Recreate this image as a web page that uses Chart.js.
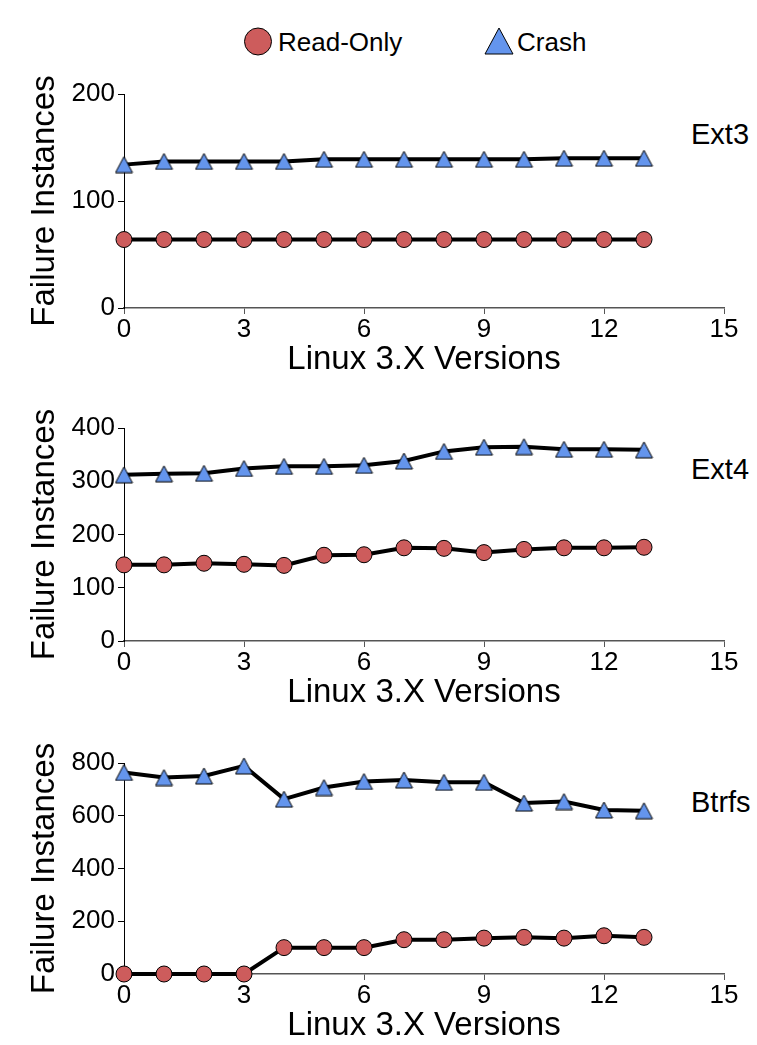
<!DOCTYPE html>
<html><head><meta charset="utf-8">
<script src="https://cdn.jsdelivr.net/npm/chart.js@4"></script>
<style>
html,body{margin:0;padding:0;background:#fff;width:757px;height:1045px;overflow:hidden;position:relative;font-family:"Liberation Sans",Arial,Helvetica,sans-serif;}
canvas{position:absolute;left:0;}
.lbl{position:absolute;left:691px;font-size:29px;line-height:29px;color:#000;white-space:nowrap;}
.lg{position:absolute;font-size:26px;line-height:26px;color:#000;white-space:nowrap;}
</style></head>
<body>
<svg style="position:absolute;left:0;top:0" width="757" height="70">
  <circle cx="258" cy="41.5" r="13.5" fill="#cd5c5c" stroke="#000" stroke-width="1"/>
  <polygon points="499,28 513,54 485,54" fill="#6495ed" stroke="#000" stroke-width="1"/>
</svg>
<div class="lg" id="lg0" style="left:278px;top:28.7px"></div>
<div class="lg" id="lg1" style="left:517px;top:28.7px"></div>
<div class="lbl" id="t0" style="top:120px"></div>
<div class="lbl" id="t1" style="top:455px"></div>
<div class="lbl" id="t2" style="top:788px"></div>
<canvas id="c0" width="757" height="308" style="top:70px"></canvas>
<canvas id="c1" width="757" height="307" style="top:404px"></canvas>
<canvas id="c2" width="757" height="305" style="top:739px"></canvas>
<script>
// ---- data ----
const versions = [0,1,2,3,4,5,6,7,8,9,10,11,12,13];
const seriesNames = ['Read-Only', 'Crash'];
const fsNames = ['Ext3', 'Ext4', 'Btrfs'];
const xTitle = 'Linux 3.X Versions';
const yTitle = 'Failure Instances';
const xTicks = [0,3,6,9,12,15];

const ext3ReadOnly = [64,64,64,64,64,64,64,64,64,64,64,64,64,64];
const ext3Crash    = [134,137,137,137,137,139,139,139,139,139,139,140,140,140];
const ext4ReadOnly = [143,143,146,144,142,161,162,175,174,166,172,175,175,176];
const ext4Crash    = [312,314,315,324,328,328,330,338,356,364,365,360,360,359];
const btrfsReadOnly = [0,0,0,0,100,100,100,130,130,136,139,136,145,139];
const btrfsCrash    = [764,745,751,789,663,707,730,736,727,727,648,654,622,619];

const ext3YTicks = [0,100,200];
const ext4YTicks = [0,100,200,300,400];
const btrfsYTicks = [0,200,400,600,800];

// ---- text ----
document.getElementById('lg0').textContent = seriesNames[0];
document.getElementById('lg1').textContent = seriesNames[1];
fsNames.forEach((n,i)=>document.getElementById('t'+i).textContent = n);

const FAM = '"Liberation Sans", Arial, Helvetica, sans-serif';
const RED = '#cd5c5c', BLUE = '#6495ed';

function makeTriangle(w, h, fill) {
  const c = document.createElement('canvas');
  c.width = w + 2; c.height = h + 2;
  const g = c.getContext('2d');
  g.beginPath();
  g.moveTo((w + 2) / 2, 1);
  g.lineTo(w + 1, h + 1);
  g.lineTo(1, h + 1);
  g.closePath();
  g.fillStyle = fill; g.fill();
  g.lineWidth = 1; g.strokeStyle = '#000'; g.stroke();
  return c;
}
const tri = makeTriangle(17, 16, BLUE);

function makeChart(id, ro, cr, yTicks) {
  const pts = arr => versions.map((v, i) => ({x: v, y: arr[i]}));
  new Chart(document.getElementById(id), {
    type: 'line',
    data: {datasets: [
      {label: seriesNames[0], data: pts(ro), borderColor: '#000', borderWidth: 4,
       pointStyle: 'circle', pointRadius: 8, pointBackgroundColor: RED,
       pointBorderColor: '#000', pointBorderWidth: 1, clip: false, tension: 0},
      {label: seriesNames[1], data: pts(cr), borderColor: '#000', borderWidth: 4,
       pointStyle: tri, pointRadius: 9, pointBackgroundColor: BLUE,
       pointBorderColor: '#000', pointBorderWidth: 1, clip: false, tension: 0}
    ]},
    options: {
      responsive: false, animation: false,
      layout: {padding: {top: 24, right: 33, left: 0, bottom: 0}},
      plugins: {legend: {display: false}, tooltip: {enabled: false}},
      scales: {
        x: {
          type: 'linear', min: xTicks[0], max: xTicks[xTicks.length - 1], z: 1,
          afterBuildTicks: s => { s.ticks = xTicks.map(v => ({value: v})); },
          ticks: {font: {size: 26, family: FAM}, color: '#000', padding: 0, maxRotation: 0, autoSkip: false},
          grid: {drawOnChartArea: false, drawTicks: true, tickLength: 6, color: '#555', tickWidth: 1},
          border: {display: true, color: '#555', width: 1.5},
          title: {display: true, text: xTitle, color: '#000',
                  font: {size: 33, family: FAM, lineHeight: 1}, padding: {top: 0, bottom: 1.5}},
          afterFit: s => { s.height = 70; }
        },
        y: {
          min: yTicks[0], max: yTicks[yTicks.length - 1], z: 1,
          afterBuildTicks: s => { s.ticks = yTicks.map(v => ({value: v})); },
          ticks: {font: {size: 26, family: FAM}, color: '#000', padding: 3, autoSkip: false},
          grid: {drawOnChartArea: false, drawTicks: true, tickLength: 6, color: '#000', tickWidth: 1},
          border: {display: true, color: '#000', width: 1},
          title: {display: true, text: yTitle, color: '#000',
                  font: {size: 33, family: FAM, lineHeight: 1}, padding: {top: 28, bottom: 0}},
          afterFit: s => { s.width = 124; }
        }
      }
    }
  });
}

makeChart('c0', ext3ReadOnly, ext3Crash, ext3YTicks);
makeChart('c1', ext4ReadOnly, ext4Crash, ext4YTicks);
makeChart('c2', btrfsReadOnly, btrfsCrash, btrfsYTicks);
</script>
</body></html>
